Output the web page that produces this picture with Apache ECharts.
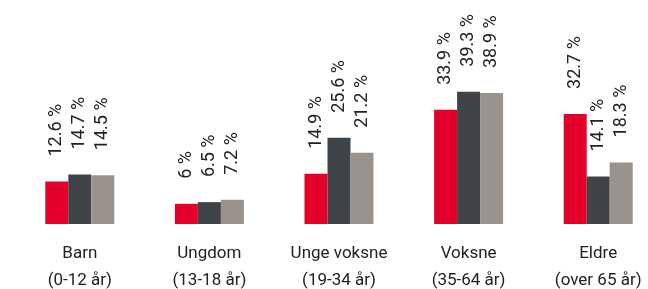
<!DOCTYPE html>
<html>
<head>
<meta charset="utf-8">
<script src="https://cdn.jsdelivr.net/npm/echarts@6/dist/echarts.min.js"></script>
<style>
  html, body { margin: 0; padding: 0; background: #fff; }
  #chart { width: 648px; height: 289px; }
</style>
</head>
<body>
<div id="chart"></div>
<script>
// aldersgrupper og andeler (%)
const categories = ['Barn\n(0-12 år)', 'Ungdom\n(13-18 år)', 'Unge voksne\n(19-34 år)', 'Voksne\n(35-64 år)', 'Eldre\n(over 65 år)'];
const serieA = [12.6, 6, 14.9, 33.9, 32.7];
const serieB = [14.7, 6.5, 25.6, 39.3, 14.1];
const serieC = [14.5, 7.2, 21.2, 38.9, 18.3];

const colors = ['#e4002b', '#3f4448', '#9a938c'];

const myChart = echarts.init(document.getElementById('chart'));

const label = {
  show: true,
  position: 'top',
  distance: 25,
  rotate: 90,
  align: 'left',
  verticalAlign: 'middle',
  color: '#222',
  fontSize: 18,
  fontFamily: 'Roboto',
  formatter: p => p.value + ' %'
};

function bar(name, data, color) {
  return {
    name: name,
    type: 'bar',
    barWidth: 23,
    barGap: '0%',
    data: data,
    itemStyle: { color: color },
    label: label
  };
}

myChart.setOption({
  animation: false,
  grid: { left: 15, width: 648, top: 22, bottom: 65, outerBoundsMode: 'none', containLabel: false },
  xAxis: {
    type: 'category',
    data: categories,
    axisLine: { show: false },
    axisTick: { show: false },
    axisLabel: {
      color: '#222',
      fontSize: 17,
      fontFamily: 'Roboto',
      lineHeight: 27,
      margin: 16,
      interval: 0
    }
  },
  yAxis: {
    type: 'value',
    min: 0,
    max: 60,
    show: false,
    splitLine: { show: false }
  },
  series: [
    bar('A', serieA, colors[0]),
    bar('B', serieB, colors[1]),
    bar('C', serieC, colors[2])
  ]
});
</script>
</body>
</html>
